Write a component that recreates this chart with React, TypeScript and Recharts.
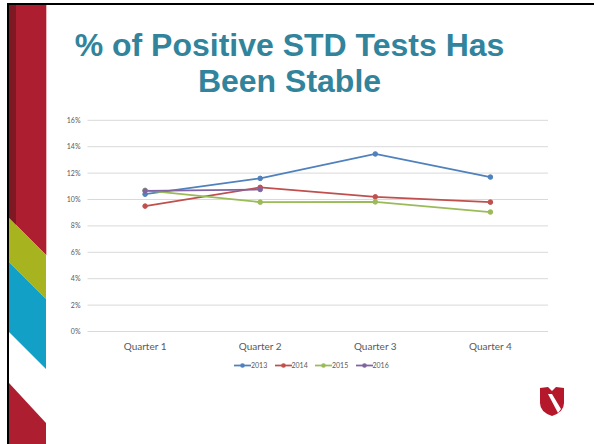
import React from 'react';
import {
  LineChart,
  Line,
  XAxis,
  YAxis,
  CartesianGrid,
} from 'recharts';

const quarters = ['Quarter 1', 'Quarter 2', 'Quarter 3', 'Quarter 4'];
const y2013 = [10.4, 11.6, 13.45, 11.7];
const y2014 = [9.5, 10.92, 10.2, 9.8];
const y2015 = [10.7, 9.8, 9.82, 9.05];
const y2016 = [10.65, 10.76, null, null];
const yTicks = [0, 2, 4, 6, 8, 10, 12, 14, 16];

const series = [
  { key: '2013', values: y2013, color: '#4F81BD' },
  { key: '2014', values: y2014, color: '#C0504D' },
  { key: '2015', values: y2015, color: '#9BBB59' },
  { key: '2016', values: y2016, color: '#8064A2' },
];

const data = quarters.map((q, i) => {
  const row: any = { quarter: q };
  series.forEach((s) => {
    row[s.key] = s.values[i];
  });
  return row;
});

const font = 'Lato, "Open Sans", sans-serif';
const textGray = '#595959';

// slide decoration: left ribbon, border, title and logo
const Slide = () => (
  <svg width={594} height={444} style={{ position: 'absolute', left: 0, top: 0 }}>
    <rect x={0} y={0} width={594} height={444} fill="#fff" />
    <rect x={7} y={3} width={587} height={2} fill="#000" />
    <rect x={7} y={3} width={2} height={441} fill="#000" />
    <polygon points="9,5 46,5 46,255 9,218" fill="#AD1F30" />
    <polygon points="9,5 16,5 16,225 9,218" fill="#7E1822" />
    <polygon points="9,218 46,255 46,299 9,262" fill="#A7B41F" />
    <polygon points="9,262 46,299 46,369 9,332" fill="#13A0C6" />
    <polygon points="9,383 46,423 46,444 9,444" fill="#AD1F30" />
    <rect x={46} y={5} width={1} height={250} fill="#E8B7BC" />
    <text
      x={289.5}
      y={56}
      textAnchor="middle"
      fontFamily='"Liberation Sans", Arial, sans-serif'
      fontWeight="bold"
      fontSize={32}
      fill="#31849B"
    >
      % of Positive STD Tests Has
    </text>
    <text
      x={289.5}
      y={91.5}
      textAnchor="middle"
      fontFamily='"Liberation Sans", Arial, sans-serif'
      fontWeight="bold"
      fontSize={32}
      fill="#31849B"
    >
      Been Stable
    </text>
    <g transform="translate(540,387)">
      <path d="M0,1 L8,0 L12,4 L16,0 L24,1 L24,16 Q24,25 12,29 Q0,25 0,16 Z" fill="#B5172B" />
      <polygon points="8,7 12,7 21,22 18,26" fill="#fff" />
    </g>
  </svg>
);

const Legend = () => (
  <div
    style={{
      position: 'absolute',
      left: 234,
      top: 360,
      display: 'flex',
      fontFamily: font,
      fontSize: 7,
      color: textGray,
      lineHeight: '11px',
    }}
  >
    {series.map((s) => (
      <div key={s.key} style={{ display: 'flex', alignItems: 'center', width: 40.5 }}>
        <svg width={17} height={11}>
          <line x1={0} y1={5.5} x2={17} y2={5.5} stroke={s.color} strokeWidth={1.75} />
          <circle cx={8.5} cy={5.5} r={2.3} fill={s.color} />
        </svg>
        <span>{s.key}</span>
      </div>
    ))}
  </div>
);

export default function App() {
  return (
    <div style={{ position: 'absolute', left: 0, top: 0, width: 594, height: 444, background: '#fff' }}>
      <Slide />
      <div style={{ position: 'absolute', left: 0, top: 0 }}>
        <LineChart
          width={594}
          height={444}
          data={data}
          margin={{ top: 120.3, right: 46, bottom: 82.5, left: 57.5 }}
        >
          <CartesianGrid vertical={false} stroke="#D9D9D9" strokeWidth={1} />
          <XAxis
            dataKey="quarter"
            axisLine={false}
            tickLine={false}
            height={30}
            tickSize={6}
            tickMargin={5}
            padding={{ left: 57.6, right: 57.6 }}
            tick={{ fill: textGray, fontSize: 10, fontFamily: font }}
          />
          <YAxis
            domain={[0, 16]}
            ticks={yTicks}
            width={30}
            axisLine={false}
            tickLine={false}
            tickSize={5}
            tickMargin={2}
            tickFormatter={(v) => `${v}%`}
            tick={{ fill: textGray, fontSize: 7, fontFamily: font }}
          />
          {series.map((s) => (
            <Line
              key={s.key}
              dataKey={s.key}
              stroke={s.color}
              strokeWidth={1.75}
              dot={{ r: 2.3, fill: s.color, stroke: s.color, strokeWidth: 1 }}
              activeDot={false}
              isAnimationActive={false}
            />
          ))}
        </LineChart>
      </div>
      <Legend />
    </div>
  );
}
